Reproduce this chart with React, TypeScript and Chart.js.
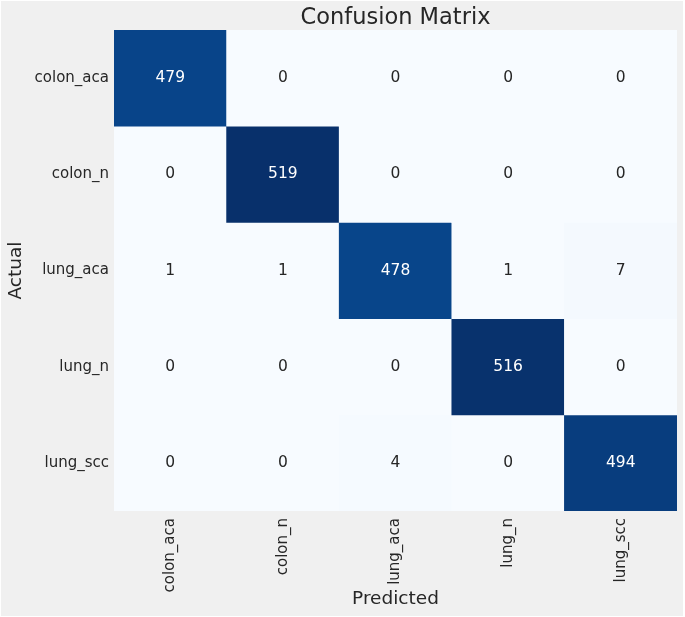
import React, { useEffect, useRef } from 'react';
import { Chart, registerables } from 'chart.js';

Chart.register(...registerables);

const classLabels = ['colon_aca', 'colon_n', 'lung_aca', 'lung_n', 'lung_scc'];
const rowColonAca = [479, 0, 0, 0, 0];
const rowColonN = [0, 519, 0, 0, 0];
const rowLungAca = [1, 1, 478, 1, 7];
const rowLungN = [0, 0, 0, 516, 0];
const rowLungScc = [0, 0, 4, 0, 494];
const matrixRows = [rowColonAca, rowColonN, rowLungAca, rowLungN, rowLungScc];

const chartTitle = 'Confusion Matrix';
const xAxisTitle = 'Predicted';
const yAxisTitle = 'Actual';

const BLUES = ['#f7fbff', '#deebf7', '#c6dbef', '#9ecae1', '#6baed6', '#4292c6', '#2171b5', '#08519c', '#08306b'];

function hexToRgb(h: string) {
  return [parseInt(h.slice(1, 3), 16), parseInt(h.slice(3, 5), 16), parseInt(h.slice(5, 7), 16)];
}

function blues(t: number) {
  const c = Math.max(0, Math.min(1, t)) * (BLUES.length - 1);
  const i = Math.min(BLUES.length - 2, Math.floor(c));
  const f = c - i;
  const a = hexToRgb(BLUES[i]);
  const b = hexToRgb(BLUES[i + 1]);
  return a.map((v, k) => Math.round(v + (b[k] - v) * f));
}

function luminance(rgb: number[]) {
  const lin = rgb.map((v) => {
    const c = v / 255;
    return c <= 0.03928 ? c / 12.92 : Math.pow((c + 0.055) / 1.055, 2.4);
  });
  return 0.2126 * lin[0] + 0.7152 * lin[1] + 0.0722 * lin[2];
}

const FONT = 'DejaVu Sans';
const TEXT_DARK = '#262626';

export default function App() {
  const ref = useRef<HTMLCanvasElement | null>(null);

  useEffect(() => {
    document.body.style.margin = '0';
    document.body.style.background = '#ffffff';
    const canvas = ref.current;
    if (!canvas) return;

    const vmax = Math.max(...matrixRows.flat());
    const vmin = 0;

    const datasets = matrixRows.map((row, r) => ({
      label: classLabels[r],
      data: row.map(() => 1),
      backgroundColor: row.map((v) => {
        const c = blues((v - vmin) / (vmax - vmin));
        return `rgb(${c[0]},${c[1]},${c[2]})`;
      }),
      borderWidth: 0,
      barPercentage: 1,
      categoryPercentage: 1,
    }));

    const bgPlugin = {
      id: 'bg',
      beforeDraw(chart: any) {
        const ctx = chart.ctx;
        ctx.save();
        ctx.fillStyle = '#ffffff';
        ctx.fillRect(0, 0, chart.width, chart.height);
        ctx.fillStyle = '#f0f0f0';
        ctx.fillRect(1, 1, chart.width - 3, chart.height - 2);
        ctx.restore();
      },
    };

    const annotPlugin = {
      id: 'annot',
      afterDatasetsDraw(chart: any) {
        const ctx = chart.ctx;
        ctx.save();
        ctx.font = `15.5px "${FONT}"`;
        ctx.textAlign = 'center';
        ctx.textBaseline = 'middle';
        matrixRows.forEach((row, r) => {
          const meta = chart.getDatasetMeta(r);
          row.forEach((v, c) => {
            const el = meta.data[c];
            const rgb = blues((v - vmin) / (vmax - vmin));
            ctx.fillStyle = luminance(rgb) > 0.408 ? TEXT_DARK : '#ffffff';
            ctx.fillText(String(v), el.x, (el.y + el.base) / 2);
          });
        });
        const ca = chart.chartArea;
        ctx.font = `22.5px "${FONT}"`;
        ctx.fillStyle = TEXT_DARK;
        ctx.fillText(chartTitle, (ca.left + ca.right) / 2, 18);
        ctx.restore();
      },
    };

    const chart = new Chart(canvas, {
      type: 'bar',
      data: { labels: classLabels, datasets },
      options: {
        animation: false,
        responsive: false,
        layout: { padding: { top: 30, right: 8, left: 0, bottom: 0 } },
        plugins: {
          legend: { display: false },
          tooltip: { enabled: false },
          title: { display: false },
        },
        scales: {
          x: {
            stacked: true,
            grid: { display: false, drawTicks: false, tickLength: 0 },
            border: { display: false },
            afterFit(scale: any) {
              scale.height = 106;
            },
            ticks: {
              autoSkip: false,
              minRotation: 90,
              maxRotation: 90,
              padding: 7,
              color: TEXT_DARK,
              font: { family: FONT, size: 15 },
            },
            title: {
              display: true,
              text: xAxisTitle,
              color: TEXT_DARK,
              font: { family: FONT, size: 18.5 },
              padding: { top: 0, bottom: 7 },
            },
          },
          y: {
            stacked: true,
            type: 'linear',
            min: 0,
            max: 5,
            reverse: true,
            grid: { display: false, drawTicks: false, tickLength: 0 },
            border: { display: false },
            afterFit(scale: any) {
              scale.width = 114;
            },
            afterBuildTicks(scale: any) {
              scale.ticks = classLabels.map((_, i) => ({ value: i + 0.5 }));
            },
            ticks: {
              padding: 5,
              color: TEXT_DARK,
              font: { family: FONT, size: 15 },
              callback: (value: any) => classLabels[Math.floor(Number(value))],
            },
            title: {
              display: true,
              text: yAxisTitle,
              color: TEXT_DARK,
              font: { family: FONT, size: 18.5 },
              padding: { top: 5, bottom: 0 },
            },
          },
        },
      },
      plugins: [bgPlugin, annotPlugin],
    } as any);

    return () => chart.destroy();
  }, []);

  return (
    <div style={{ width: 685, height: 617, position: 'relative' }}>
      <canvas ref={ref} width={685} height={617} style={{ display: 'block' }} />
    </div>
  );
}
